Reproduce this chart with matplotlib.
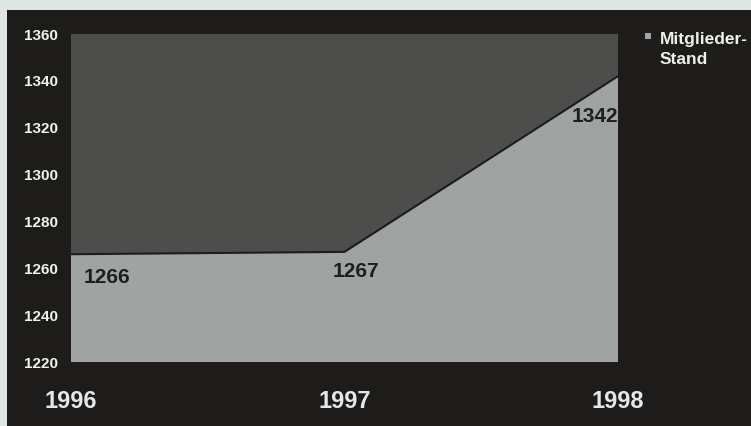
import matplotlib
matplotlib.use("Agg")
import matplotlib.pyplot as plt
from matplotlib.patches import Rectangle

years = ["1996", "1997", "1998"]
members = [1266, 1267, 1342]
yticks = [1220, 1240, 1260, 1280, 1300, 1320, 1340, 1360]
series_name = "Mitglieder-\nStand"

plt.rcParams['font.family'] = ['Liberation Sans', 'DejaVu Sans']

W, H = 751, 426
fill_color = "#9fa3a2"
fig = plt.figure(figsize=(W / 100, H / 100), dpi=100)
fig.patch.set_facecolor("#dfe7e5")
bg = fig.add_axes([7 / W, 0, 1 - 7 / W, (H - 10) / H], zorder=-10)
bg.set_facecolor("#1e1c1a")
bg.set_xticks([])
bg.set_yticks([])
for s in bg.spines.values():
    s.set_visible(False)

ax = fig.add_axes([71 / W, (H - 362) / H, (618 - 71) / W, (362 - 34) / H])
ax.set_facecolor("#4d4d4c")
x = list(range(len(years)))
ax.fill_between(x, members, yticks[0], facecolor=fill_color, edgecolor="none",
                zorder=2)
ax.plot(x, members, color="#1c1c1c", lw=1.5, zorder=3)

ax.set_xlim(0, len(years) - 1)
ax.set_ylim(yticks[0], yticks[-1])
ax.set_xticks(x)
ax.set_xticklabels(years)
ax.set_yticks(yticks)
for s in ax.spines.values():
    s.set_visible(False)
ax.tick_params(axis="x", length=0, pad=20, labelsize=17, labelcolor="#e4e8e6")
ax.tick_params(axis="y", length=0, pad=9.5, labelsize=11, labelcolor="#f0f2f0")
for t in ax.get_yticklabels():
    t.set_fontweight("bold")
for t in ax.get_xticklabels():
    t.set_fontweight("semibold")

offsets = [(13, -23, "left"), (-12, -20, "left"), (0, -40, "right")]
for xi, v, (dx, dy, ha) in zip(x, members, offsets):
    ax.annotate(str(v), (xi, v), xytext=(dx * 0.72, dy * 0.72),
                textcoords="offset points", ha=ha, va="center",
                fontsize=15, fontweight="bold", color="#1e1e1e", zorder=4)

# legend
fig.add_artist(Rectangle((645 / W, (H - 39) / H), 6 / W, 6 / H,
                         transform=fig.transFigure, facecolor=fill_color,
                         edgecolor="none"))
fig.text(660 / W, (H - 44) / H, series_name.split("\n")[0], ha="left",
         va="baseline", fontsize=12.5, fontweight="bold", color="#eef0ee")
fig.text(660 / W, (H - 64) / H, series_name.split("\n")[1], ha="left",
         va="baseline", fontsize=12.5, fontweight="bold", color="#eef0ee")

fig.savefig("out.png", dpi=100, facecolor=fig.get_facecolor())
